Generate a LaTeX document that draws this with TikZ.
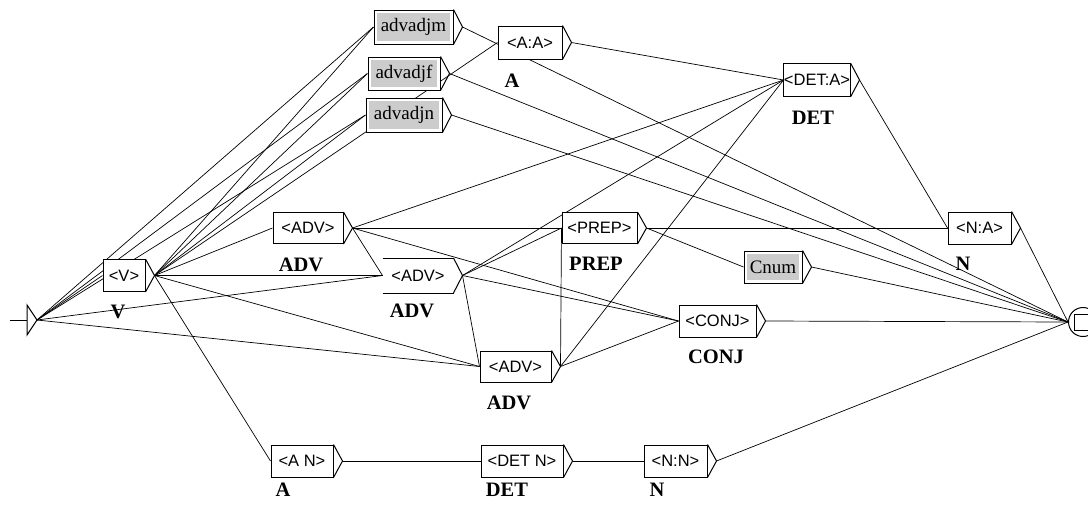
\documentclass[tikz,border=0pt]{standalone}
\usepackage{fontspec}
\setmainfont{Liberation Serif}
\newfontfamily\boxfont{Liberation Sans}
\usetikzlibrary{backgrounds}

\tikzset{
  ubox/.style={draw, line width=1pt, fill=white, inner sep=0pt, minimum height=32pt,
    font=\boxfont\fontsize{16.5}{16.5}\selectfont},
  greybox/.style={ubox, font=\fontsize{19}{19}\selectfont,
    path picture={\fill[gray!40] ([shift={(3pt,-3pt)}]path picture bounding box.north west)
      rectangle ([shift={(-3pt,3pt)}]path picture bounding box.south east);}},
  lab/.style={font=\bfseries\fontsize{20.5}{20.5}\selectfont, inner sep=0pt},
  link/.style={line width=0.7pt},
}

\begin{document}
\begin{tikzpicture}[x=1pt,y=-1pt]
    \useasboundingbox (0,0) rectangle (1088,507);

    % Initial and final states %
    \coordinate (start) at (10,320);
    \coordinate (ini-o) at (37,320);
    \draw[line width=1pt] (start) -- ([xshift=-10pt]ini-o);
    \draw[line width=1pt] ([shift={(-10pt,15pt)}]ini-o) -- (ini-o) -- ([shift={(-10pt,-15pt)}]ini-o) -- cycle;
    \node[draw, circle, line width=1pt, minimum size=29pt, inner sep=0pt] (fin) at (1083,322) {};
    \draw[line width=1pt] ([shift={(-9pt,8pt)}]fin.center) rectangle ([shift={(5pt,-8pt)}]fin.center);

    % Boxes %
    \node[ubox, minimum width=42pt] (v) at (124,275.5) {<V>};
    \node[greybox, minimum width=79pt, minimum height=34pt] (madj) at (413.5,27) {advadjm};
    \node[greybox, minimum width=72pt, minimum height=33pt] (fadj) at (404,73.5) {advadjf};
    \node[greybox, minimum width=76pt, minimum height=34pt] (nadj) at (404,115) {advadjn};
    \node[ubox, minimum width=64pt, minimum height=33pt] (aa) at (530,42.5) {<A:A>};
    \node[ubox, minimum width=62pt, minimum height=33pt] (deta) at (817,80) {<DET:A>};
    \node[ubox, minimum width=70pt, minimum height=31pt] (advt) at (308,228) {<ADV>};
    \node[ubox, minimum width=75pt, minimum height=31pt] (prep) at (599.5,228) {<PREP>};
    \node[ubox, draw=none, minimum width=70pt, minimum height=34pt] (advm) at (418,275.5) {<ADV>};
    \draw[line width=1pt] (advm.north west) -- (advm.north east) (advm.south west) -- (advm.south east);
    \node[ubox, minimum width=77pt] (conj) at (717.5,321) {<CONJ>};
    \node[ubox, minimum width=71pt, minimum height=31pt] (advl) at (515.5,366.5) {<ADV>};
    \node[ubox, minimum width=63pt] (na) at (979.5,228) {<N:A>};
    \node[greybox, minimum width=58pt] (cnum) at (773,267) {Cnum};
    \node[ubox, minimum width=62pt] (an) at (302,461) {<A N>};
    \node[ubox, minimum width=82pt] (detn) at (522,461) {<DET N>};
    \node[ubox, minimum width=63pt] (nn) at (675.5,461) {<N:N>};

    \foreach \b in {v,madj,fadj,nadj,aa,deta,advt,prep,advm,conj,advl,na,cnum,an,detn,nn} {
        \draw[line width=1pt] (\b.north east) -- ([xshift=9pt]\b.east) -- (\b.south east);
        \coordinate (\b-o) at ([xshift=9pt]\b.east);
    }

    % Labels %
    \node[lab] (vl) at (118,312) {V};
    \node[lab] (aal) at (512,81) {A};
    \node[lab] (detal) at (813,118) {DET};
    \node[lab] (advtl) at (301,265) {ADV};
    \node[lab] (prepl) at (596,264) {PREP};
    \node[lab] (advml) at (412,311) {ADV};
    \node[lab] (conjl) at (716,357) {CONJ};
    \node[lab] (advll) at (509,403) {ADV};
    \node[lab] (nal) at (963,264) {N};
    \node[lab] (anl) at (283,490) {A};
    \node[lab] (detnl) at (507,490) {DET};
    \node[lab] (nnl) at (657,490) {N};

    % Transitions %
    \begin{scope}[on background layer]
        \foreach \a/\b in {ini/v, ini/madj, ini/fadj, ini/nadj, ini/advm, ini/advl,
                v/madj, v/fadj, v/nadj, v/aa, v/advt, v/advm, v/advl, v/an,
                aa/deta, deta/na,
                advt/deta, advt/prep, advt/advm, advt/conj,
                advm/prep, advm/deta, advm/conj, advm/advl,
                advl/prep, advl/deta, advl/conj,
                prep/na, prep/cnum,
                an/detn, detn/nn,
                madj/fin, fadj/fin, nadj/fin, cnum/fin, conj/fin, na/fin, nn/fin}
            \draw[link] (\a-o) -- (\b.west);
    \end{scope}
\end{tikzpicture}
\end{document}
